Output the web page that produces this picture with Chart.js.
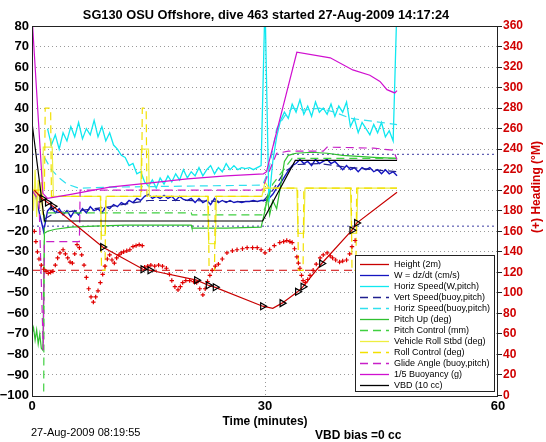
<!DOCTYPE html>
<html>
<head>
<meta charset="utf-8">
<script src="https://cdn.jsdelivr.net/npm/chart.js@4.4.1/dist/chart.umd.min.js"></script>
<style>
html, body { margin: 0; padding: 0; background: #fff; }
#wrap { width: 546px; height: 442px; }
</style>
</head>
<body>
<div id="wrap"><canvas id="diveChart" width="546" height="442"></canvas></div>
<script>
// ---- data (time in minutes) ----
const xTicks = [0, 30, 60];

// dense 0.5 min samples for the noisy speed traces
const sampleMin = [0, 0.5, 1, 1.5, 2, 2.5, 3, 3.5, 4, 4.5, 5, 5.5, 6, 6.5, 7, 7.5, 8, 8.5, 9, 9.5,
    10, 10.5, 11, 11.5, 12, 12.5, 13, 13.5, 14, 14.5, 15, 15.5, 16, 16.5, 17, 17.5, 18, 18.5, 19, 19.5,
    20, 20.5, 21, 21.5, 22, 22.5, 23, 23.5, 24, 24.5, 25, 25.5, 26, 26.5, 27, 27.5, 28, 28.5, 29, 29.5,
    30, 30.5, 31, 31.5, 32, 32.5, 33, 33.5, 34, 34.5, 35, 35.5, 36, 36.5, 37, 37.5, 38, 38.5, 39, 39.5,
    40, 40.5, 41, 41.5, 42, 42.5, 43, 43.5, 44, 44.5, 45, 45.5, 46, 46.5, 47];
const wDzdt = [0, -3, -12, -20, -10, -8, -11, -9, -12, -10, -13, -10, -12, -9, -11, -8, -10, -9, -11, -8,
    -9, -7, -8, -6, -7, -5, -6, -4, -5, -3, -2, -4, -3, -4, -2.5, -4, -3, -5, -3, -4.5,
    -5, -4, -6, -4, -6, -5, -7, -4, -6, -5, -6, -5, -6, -5.5, -6, -5.5, -5.5, -5, -5.5, -5,
    -5, -4, -2, 1, 3.5, 6.5, 9.5, 12, 13, 15, 13, 14, 12, 15, 13, 14, 15, 13, 14, 12,
    10, 12, 10, 11, 9, 11, 10, 11, 9, 10, 8, 10, 8, 9, 7];
const horizSpdW = [null, null, null, null, 30, 22, 27, 20, 28, 24, 31, 26, 33, 25, 30, 27, 34, 26, 31, 24,
    28, 22, 20, 17, 16, 12, 13, 8, 9, 4, 2, 5, 1, 6, 3, 7, 4, 8, 5, 10,
    6, 9, 7, 11, 7, 10, 12, 8, 11, 9, 13, 10, 12, 10, 11, 10.5, 11, 10, 11, 12,
    92, -6, 14, 26, 34, 38, 35, 42, 38, 44, 37, 41, 36, 43, 38, 40, 37, 42, 36, 41,
    38, 43, 31, 35, 28, 33, 30, 27, 32, 28, 33, 26, 29, 24, 92];

const vertSpdBuoyMin = [1.6, 3, 6, 10, 15, 20, 25, 29.7, 31, 32.5, 34, 37, 40, 44, 47];
const vertSpdBuoy = [-14, -11, -10, -8, -5, -5, -5.5, -5.5, 0, 9, 12.5, 13, 11.5, 10, 9];

const horizSpdBuoyMin = [1.6, 2.5, 3.5, 4.5, 6, 10, 20, 29.7, 30.5, 31.5, 32.5, 33.5, 35, 37, 39, 41, 43, 45, 47];
const horizSpdBuoy = [16, 10, 6, 3, 1, 1.5, 2, 2.5, 10, 30, 36, 40, 39, 40, 38, 35, 34, 33, 32];

const pitchMin = [0, 0.2, 0.4, 0.6, 0.8, 1.0, 1.2, 1.4, 1.6, 2, 3, 5, 8, 12, 16, 20.5, 20.6, 25, 29.5,
    30, 30.3, 30.6, 31, 31.5, 32, 32.5, 33, 34, 36, 38, 40, 44, 47];
const pitchUp = [-70, -67, -73, -68, -75, -70, -77, -78, -21, -20, -19, -18, -17.5, -17, -17, -17, -18.5, -18.5, -18,
    -10, -3, -12, -5, -9, 2, 14, 17, 18, 18.5, 18, 17, 16, 15.5];

const pitchCtlMin = [0, 1.5, 1.6, 20.5, 20.6, 29.7, 31, 33.5, 47];
const pitchCtl = [-105, -105, -11, -11, -12, -12, 3, 15.5, 15.5];

const rollMin = [0, 0.2, 0.4, 0.6, 0.8, 1.0, 1.2, 1.35, 1.45, 2.6, 2.75, 8.8, 8.95, 9.4, 9.55, 14.0, 14.1, 15.0, 15.1,
    22.6, 22.75, 23.6, 23.75, 29.6, 30, 30.5, 34.1, 34.25, 35.0, 35.15, 41.0, 41.15, 41.8, 41.95, 47];
const rollStbd = [8, -10, 10, -13, 5, -9, 4, -12, 21, 21, -3, -3, -22, -22, -3, -3, 20, 20, -3,
    -3, -26, -26, -3, -3, 4, 1, 1, -21, -21, 1, 1, -21, -21, 1, 1];

const rollCtlMin = [0, 1.6, 1.7, 2.4, 2.5, 8.85, 8.95, 9.4, 9.5, 14.1, 14.2, 14.7, 14.8, 22.7, 22.8, 23.5, 23.6,
    29.7, 30, 34.2, 34.3, 34.9, 35, 41.1, 41.2, 41.7, 41.8, 47];
const rollCtl = [0, 0, 40, 40, -3, -3, -39, -39, -3, -3, 40, 40, -3, -3, -39, -39, -3,
    -3, 1, 1, -39, -39, 1, 1, -39, -39, 1, 1];

const glideMin = [0, 0.9, 1.45, 1.6, 6.1, 6.2, 29.6, 30.2, 31.5, 33, 37.5, 38, 44, 46.5, 47];
const glideAngle = [0, -5, -78, -25, -25, 0, 0, 6, 18, 19, 19, 21, 20.5, 19.5, 15];

const buoyMin = [0, 1.4, 2, 5, 10, 15, 20, 25, 29.8, 30.2, 34.1, 38.4, 41.3, 43.5, 44.8, 45.7, 46.7, 47];
const buoyancy = [85, -1.5, -4, -2, 1.5, 3.5, 5.5, 7, 8, 9, 67.2, 64.5, 58.6, 56, 53, 49, 47.4, 48.5];

const vbdMin = [0, 1.6, 29.7, 33.9, 47];
const vbd = [33, -15, -15, 14.5, 14.5];

const heightMin = [0.3, 1.3, 2.0, 2.7, 9.1, 14.3, 15.2, 21.2, 22.7, 23.6, 29.7, 31, 32.2, 34.2, 34.9, 37.3, 41.2, 41.8, 47];
const height = [0, -4, -6, -7.8, -27.7, -38.5, -39, -43.8, -46.3, -47.3, -56.5, -57.5, -55, -49.5, -47, -35.7, -19.5, -16, -1];

const markMin = [1.3, 2.0, 2.7, 9.1, 14.3, 15.2, 21.2, 22.7, 23.6, 29.7, 32.2, 34.2, 34.9, 37.3, 41.2, 41.8];
const markHeight = [-4, -6, -7.8, -27.7, -38.5, -39, -43.8, -46.3, -47.3, -56.5, -55, -49.5, -47, -35.7, -19.5, -16];

const headingMin = [0.3, 0.5, 0.7, 0.9, 1.2, 1.5, 1.8, 2.1, 2.4, 2.7, 3.0, 3.3, 3.6, 4.0, 4.3, 4.6, 4.9, 5.2, 5.5, 5.8,
    6.1, 6.4, 6.7, 7.0, 7.3, 7.6, 7.9, 8.2, 8.5, 8.8, 9.1, 9.4, 9.7, 10.0, 10.3, 10.6, 10.9, 11.2, 11.5, 11.8,
    12.2, 12.6, 13.0, 13.4, 13.8, 14.2, 14.5, 14.9, 15.3, 15.8, 16.3, 16.8, 17.3, 17.7, 18.0, 18.4, 18.8, 19.1, 19.4, 19.8,
    20.3, 20.8, 21.2, 21.6, 22.0, 22.3, 22.6, 22.9, 23.2, 23.6, 24.0, 24.5, 25.1, 25.8, 26.4, 27.1, 27.7, 28.4, 29.0, 29.5,
    30.0, 30.6, 31.2, 31.9, 32.4, 32.8, 33.2, 33.5, 33.8, 34.1, 34.3, 34.5, 34.7, 34.9, 35.2, 35.5, 35.8, 36.2, 36.6, 37.1,
    37.5, 38.0, 38.4, 38.7, 39.1, 39.6, 40.0, 40.5, 40.9, 41.2, 41.6];
const headingDeg = [160, 150, 140, 133, 127, 123, 121, 119, 120, 121, 127, 134, 139, 142, 138, 134, 130, 129, 138, 147,
    144, 137, 127, 115, 104, 96, 91, 96, 102, 110, 118, 126, 133, 137, 132, 129, 134, 137, 139, 140,
    141, 142, 145, 146, 147, 146, 125, 126, 127, 126, 127, 126, 124, 118, 112, 106, 103, 106, 110, 112,
    112, 111, 110, 104, 98, 104, 111, 117, 122, 126, 128, 133, 139, 141, 142, 143, 144, 144, 144, 142,
    139, 142, 146, 149, 150, 151, 150, 149, 143, 135, 129, 124, 117, 112, 110, 113, 117, 122, 128, 134,
    137, 139, 136, 134, 132, 130, 131, 132, 138, 145, 151];

const headingTarget = 122;
const wTargets = [-17.5, 17.5];

// ---- helpers ----
function pts(ts, vs) {
    return ts.map((t, i) => ({ x: t, y: vs[i] }));
}

function line(label, color, ts, vs, extra) {
    return Object.assign({
        label: label,
        data: pts(ts, vs),
        borderColor: color,
        backgroundColor: color,
        borderWidth: 1.2,
        pointRadius: 0,
        tension: 0,
        fill: false,
        clip: 0,
        spanGaps: false,
        yAxisID: 'y'
    }, extra || {});
}

const DASH = [8, 5];
const minus = s => String(s).replace('-', '\u2212');

const datasets = [
    line('Height (2m)', '#c80000', heightMin, height, { order: 3 }),
    line('W = dz/dt (cm/s)', '#1414c0', sampleMin, wDzdt, { borderWidth: 1.4, order: 14 }),
    line('Horiz Speed(W,pitch)', '#10e8f0', sampleMin, horizSpdW, { borderWidth: 1.3, order: 13 }),
    line('Vert Speed(buoy,pitch)', '#202090', vertSpdBuoyMin, vertSpdBuoy, { borderDash: DASH, order: 12 }),
    line('Horiz Speed(buoy,pitch)', '#30e0ee', horizSpdBuoyMin, horizSpdBuoy, { borderDash: DASH, order: 11 }),
    line('Pitch Up (deg)', '#30c030', pitchMin, pitchUp, { order: 10 }),
    line('Pitch Control (mm)', '#40d040', pitchCtlMin, pitchCtl, { borderDash: DASH, order: 9 }),
    line('Vehicle Roll Stbd (deg)', '#eeee40', rollMin, rollStbd, { order: 8 }),
    line('Roll Control (deg)', '#f2e000', rollCtlMin, rollCtl, { borderDash: DASH, order: 7 }),
    line('Glide Angle (buoy,pitch)', '#c820c8', glideMin, glideAngle, { borderDash: DASH, order: 6 }),
    line('1/5 Buoyancy (g)', '#d010d0', buoyMin, buoyancy, { order: 5 }),
    line('VBD (10 cc)', '#000000', vbdMin, vbd, { order: 4 }),
    // extras not in the legend
    line('heading', '#e00000', headingMin, headingDeg, {
        yAxisID: 'yR', showLine: false, pointStyle: 'cross', pointRadius: 2.2,
        borderWidth: 1.2, order: 1, noLegend: true
    }),
    line('marks', '#000000', markMin, markHeight, {
        showLine: false, pointStyle: 'triangle', pointRotation: 90, pointRadius: 4,
        backgroundColor: 'rgba(0,0,0,0)', borderWidth: 1.2, order: 0, noLegend: true
    }),
    line('heading target', '#d00000', [0, 60], [headingTarget, headingTarget], {
        yAxisID: 'yR', borderDash: DASH, borderWidth: 1, order: 20, noLegend: true
    }),
    line('w dive', '#3a3aa0', [0, 60], [wTargets[0], wTargets[0]], {
        borderDash: [2, 3], borderWidth: 1, order: 21, noLegend: true
    }),
    line('w climb', '#3a3aa0', [0, 60], [wTargets[1], wTargets[1]], {
        borderDash: [2, 3], borderWidth: 1, order: 21, noLegend: true
    })
];

// ---- frame, legend and loose texts ----
const decorations = {
    id: 'decorations',
    afterDraw(chart) {
        const { ctx, chartArea: a } = chart;
        ctx.save();

        // axes box
        ctx.strokeStyle = '#222';
        ctx.lineWidth = 1;
        ctx.setLineDash([]);
        ctx.strokeRect(Math.round(a.left) + 0.5, Math.round(a.top) + 0.5,
            Math.round(a.right - a.left) - 1, Math.round(a.bottom - a.top));

        // legend box
        const lx = 355, ly = 255, lw = 139, lh = 136;
        ctx.fillStyle = '#fff';
        ctx.fillRect(lx, ly, lw, lh);
        ctx.strokeRect(lx + 0.5, ly + 0.5, lw, lh);
        ctx.font = '9px "Liberation Sans", Arial, sans-serif';
        ctx.textBaseline = 'middle';
        ctx.textAlign = 'left';
        let row = 0;
        chart.data.datasets.forEach(ds => {
            if (ds.noLegend) return;
            const y = 264 + row * 11 + 0.5;
            ctx.strokeStyle = ds.borderColor;
            ctx.lineWidth = 1.3;
            ctx.setLineDash(ds.borderDash || []);
            ctx.beginPath();
            ctx.moveTo(360, y);
            ctx.lineTo(389, y);
            ctx.stroke();
            ctx.setLineDash([]);
            ctx.fillStyle = '#000';
            ctx.fillText(ds.label, 394, y);
            row++;
        });

        // title
        ctx.fillStyle = '#000';
        ctx.textAlign = 'center';
        ctx.font = 'bold 12.8px "Liberation Sans", Arial, sans-serif';
        ctx.fillText('SG130 OSU Offshore, dive 463 started 27-Aug-2009 14:17:24', 266, 15);

        // right axis title
        ctx.save();
        ctx.translate(537, 187);
        ctx.rotate(-Math.PI / 2);
        ctx.fillStyle = '#d00000';
        ctx.font = 'bold 12px "Liberation Sans", Arial, sans-serif';
        ctx.fillText('(+) Heading (\u00b0M)', 0, 0);
        ctx.restore();

        // footer texts
        ctx.textAlign = 'left';
        ctx.fillStyle = '#000';
        ctx.font = '11px "Liberation Sans", Arial, sans-serif';
        ctx.fillText('27-Aug-2009 08:19:55', 31, 433);
        ctx.font = 'bold 12px "Liberation Sans", Arial, sans-serif';
        ctx.fillText('VBD bias =0 cc', 315, 436);

        ctx.restore();
    }
};

const tickFont = { family: '"Liberation Sans", Arial, sans-serif', size: 13, weight: 'bold' };

new Chart(document.getElementById('diveChart').getContext('2d'), {
    type: 'line',
    data: { datasets: datasets },
    options: {
        responsive: false,
        animation: false,
        devicePixelRatio: 1,
        layout: { padding: { top: 26, left: 0, right: 0, bottom: 0 } },
        scales: {
            x: {
                type: 'linear',
                min: 0,
                max: 60,
                afterBuildTicks: s => { s.ticks = xTicks.map(v => ({ value: v })); },
                afterFit: s => { s.height = 46.5; },
                ticks: { color: '#000', font: tickFont, padding: 3, maxRotation: 0 },
                grid: {
                    drawTicks: false,
                    color: c => (c.tick && c.tick.value === 30) ? '#999' : 'rgba(0,0,0,0)'
                },
                border: { display: false, dash: [1, 3] },
                title: {
                    display: true,
                    text: 'Time (minutes)',
                    color: '#000',
                    font: { family: '"Liberation Sans", Arial, sans-serif', size: 12, weight: 'bold' },
                    padding: { top: 0, bottom: 12.8 }
                }
            },
            y: {
                position: 'left',
                min: -100,
                max: 80,
                afterFit: s => { s.width = 32; },
                ticks: { stepSize: 10, color: '#000', font: tickFont, padding: 3, callback: v => minus(v) },
                grid: {
                    drawTicks: false,
                    color: c => (c.tick && c.tick.value > -100 && c.tick.value < 80) ? '#9a9a9a' : 'rgba(0,0,0,0)'
                },
                border: { display: false, dash: [1, 3] }
            },
            yR: {
                position: 'right',
                min: 0,
                max: 360,
                afterFit: s => { s.width = 48; },
                ticks: {
                    stepSize: 20, color: '#d00000', padding: 1,
                    font: { family: '"Liberation Sans", Arial, sans-serif', size: 12, weight: 'bold' }
                },
                grid: { drawOnChartArea: false, drawTicks: true, tickLength: 4, tickColor: '#222' },
                border: { display: false }
            }
        },
        plugins: {
            legend: { display: false },
            tooltip: { enabled: false },
            title: { display: false }
        }
    },
    plugins: [decorations]
});
</script>
</body>
</html>
